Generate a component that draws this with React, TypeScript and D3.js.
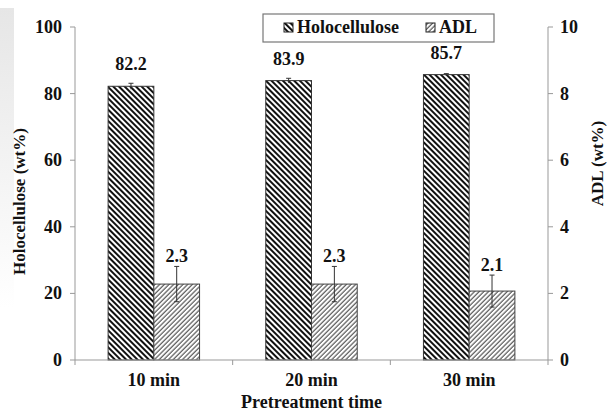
import * as d3 from "d3";

const categories = ["10 min", "20 min", "30 min"];
const holocellulose = [82.2, 83.9, 85.7];
const holoErr = [0.9, 0.7, 0.3];
const adl = [2.28, 2.28, 2.07];
const adlErr = [0.53, 0.53, 0.48];
const leftTicks = [0, 20, 40, 60, 80, 100];
const rightTicks = [0, 2, 4, 6, 8, 10];

const FONT = "Liberation Serif, DejaVu Serif, serif";

export default function App() {
  const width = 613;
  const height = 411;
  const margin = { top: 27, right: 65, bottom: 51, left: 75 };
  const innerW = width - margin.left - margin.right;
  const innerH = height - margin.top - margin.bottom;

  const x = d3.scaleBand().domain(categories).range([0, innerW]);
  const yL = d3.scaleLinear().domain([0, 100]).range([innerH, 0]);
  const yR = d3.scaleLinear().domain([0, 10]).range([innerH, 0]);
  const barW = x.bandwidth() * 0.29;
  const axisColor = "#999";
  const txt = { fontFamily: FONT, fontWeight: 700, fill: "#111" } as const;

  return (
    <svg
      width={width}
      height={height}
      style={{ position: "absolute", left: 0, top: 0, background: "#fff" }}
    >
      <defs>
        <pattern id="holo" width="4" height="4" patternUnits="userSpaceOnUse" patternTransform="rotate(-45)">
          <rect width="4" height="4" fill="#fff" />
          <line x1="1" y1="0" x2="1" y2="4" stroke="#111" strokeWidth="2" />
        </pattern>
        <pattern id="adl" width="3.3" height="3.3" patternUnits="userSpaceOnUse" patternTransform="rotate(45)">
          <rect width="3.3" height="3.3" fill="#fff" />
          <line x1="1" y1="0" x2="1" y2="3.3" stroke="#555" strokeWidth="1.2" />
        </pattern>
        <linearGradient id="wm" x1="0" x2="0" y1="0" y2="1">
          <stop offset="0" stopColor="#e6e6e6" />
          <stop offset="1" stopColor="#ffffff" />
        </linearGradient>
      </defs>
      {/* faint watermark band on the left */}
      <rect x={0} y={8} width={14} height={300} fill="url(#wm)" />

      <g transform={`translate(${margin.left},${margin.top})`}>
        {/* bars */}
        {categories.map((c, i) => {
          const cx = (x(c) ?? 0) + x.bandwidth() / 2;
          const hx = cx - barW / 2;
          const ax = cx + barW / 2;
          return (
            <g key={c}>
              <rect
                x={cx - barW}
                y={yL(holocellulose[i])}
                width={barW}
                height={innerH - yL(holocellulose[i])}
                fill="url(#holo)"
                stroke="#333"
                strokeWidth={1}
              />
              <rect
                x={cx}
                y={yR(adl[i])}
                width={barW}
                height={innerH - yR(adl[i])}
                fill="url(#adl)"
                stroke="#444"
                strokeWidth={1}
              />
              {/* error bars */}
              <g stroke="#333" strokeWidth={1}>
                <line x1={hx} x2={hx} y1={yL(holocellulose[i] + holoErr[i])} y2={yL(holocellulose[i] - holoErr[i])} />
                <line x1={hx - 2.5} x2={hx + 2.5} y1={yL(holocellulose[i] + holoErr[i])} y2={yL(holocellulose[i] + holoErr[i])} />
                <line x1={ax} x2={ax} y1={yR(adl[i] + adlErr[i])} y2={yR(adl[i] - adlErr[i])} />
                <line x1={ax - 2.5} x2={ax + 2.5} y1={yR(adl[i] + adlErr[i])} y2={yR(adl[i] + adlErr[i])} />
                <line x1={ax - 2.5} x2={ax + 2.5} y1={yR(adl[i] - adlErr[i])} y2={yR(adl[i] - adlErr[i])} />
              </g>
              <text {...txt} x={hx} y={yL(holocellulose[i]) - 16} textAnchor="middle" fontSize={18}>
                {holocellulose[i].toFixed(1)}
              </text>
              <text {...txt} x={ax} y={yR(adl[i] + adlErr[i]) - 4} textAnchor="middle" fontSize={18}>
                {adl[i].toFixed(1)}
              </text>
            </g>
          );
        })}

        {/* left axis */}
        <line x1={0} x2={0} y1={0} y2={innerH + 5} stroke={axisColor} />
        {leftTicks.map((t) => (
          <g key={t} transform={`translate(0,${yL(t)})`}>
            <line x1={-5} x2={0} stroke={axisColor} />
            <text {...txt} x={-13} dy="0.33em" textAnchor="end" fontSize={18}>{t}</text>
          </g>
        ))}
        {/* right axis */}
        <line x1={innerW} x2={innerW} y1={0} y2={innerH + 5} stroke={axisColor} />
        {rightTicks.map((t) => (
          <g key={t} transform={`translate(${innerW},${yR(t)})`}>
            <line x1={0} x2={5} stroke={axisColor} />
            <text {...txt} x={12} dy="0.33em" textAnchor="start" fontSize={18}>{t}</text>
          </g>
        ))}
        {/* bottom axis */}
        <line x1={0} x2={innerW} y1={innerH} y2={innerH} stroke={axisColor} />
        {categories.slice(1).map((c) => (
          <line key={c} x1={x(c) ?? 0} x2={x(c) ?? 0} y1={innerH} y2={innerH + 5} stroke={axisColor} />
        ))}
        {categories.map((c) => (
          <text {...txt} key={c} x={(x(c) ?? 0) + x.bandwidth() / 2} y={innerH + 26} textAnchor="middle" fontSize={18}>
            {c}
          </text>
        ))}
        <text {...txt} x={innerW / 2} y={innerH + 48} textAnchor="middle" fontSize={18}>
          Pretreatment time
        </text>
        <text {...txt} transform={`translate(-50,${innerH / 2 + 8}) rotate(-90)`} textAnchor="middle" fontSize={17}>
          Holocellulose (wt%)
        </text>
        <text {...txt} transform={`translate(${innerW + 55},${innerH / 2 - 30}) rotate(-90)`} textAnchor="middle" fontSize={17}>
          ADL (wt%)
        </text>
      </g>

      {/* legend */}
      <g transform="translate(263,14)">
        <rect width={231} height={28} fill="#fff" stroke="#777" strokeWidth={1.2} />
        <rect x={21} y={9} width={9} height={9} fill="url(#holo)" stroke="#222" />
        <text {...txt} x={34} y={19} fontSize={18}>Holocellulose</text>
        <rect x={163} y={9} width={9} height={9} fill="url(#adl)" stroke="#222" />
        <text {...txt} x={176} y={19} fontSize={18}>ADL</text>
      </g>
    </svg>
  );
}
